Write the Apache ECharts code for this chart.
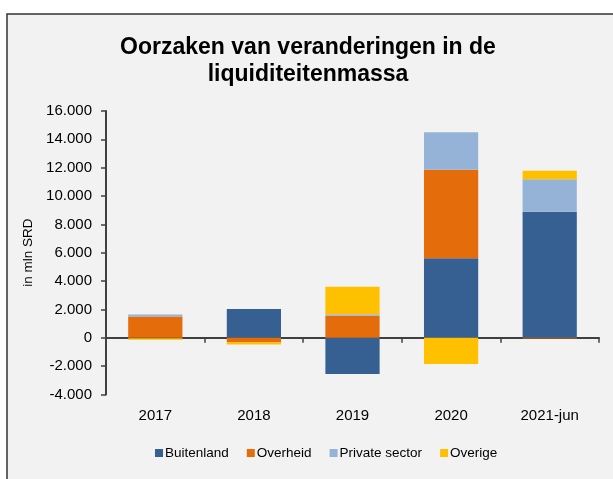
<!DOCTYPE html>
<html>
<head>
<meta charset="utf-8">
<script src="https://cdn.jsdelivr.net/npm/echarts@6/dist/echarts.min.js"></script>
<style>
html,body{margin:0;padding:0;background:#fff;}
#c{width:613px;height:479px;}
</style>
</head>
<body>
<div id="c"></div>
<script>
var categories = ['2017', '2018', '2019', '2020', '2021-jun'];
var buitenland = [-40, 2030, -2560, 5600, 8890];
var overheid = [1500, -320, 1550, 6260, -60];
var privateSector = [130, 0, 100, 2640, 2290];
var overige = [-110, -160, 1950, -1860, 610];
var yTicks = { min: -4000, max: 16000, interval: 2000 };

function fmt(v) {
  var s = String(Math.abs(v));
  var out = s.replace(/\B(?=(\d{3})+(?!\d))/g, '.');
  return (v < 0 ? '-' : '') + out;
}

var chart = echarts.init(document.getElementById('c'), null, { renderer: 'canvas' });
var font = '"Liberation Sans", Arial, sans-serif';
function bar(name, data, color) {
  return {
    name: name, type: 'bar', stack: 'total', data: data,
    xAxisIndex: 0, barWidth: '55%',
    itemStyle: { color: color },
    emphasis: { disabled: true }
  };
}
chart.setOption({
  animation: false,
  backgroundColor: '#ffffff',
  graphic: [{
    type: 'rect', z: -10, silent: true,
    shape: { x: 7, y: 14, width: 700, height: 600 },
    style: { fill: '#f2f2f2', stroke: '#333333', lineWidth: 1.5 }
  }],
  title: {
    text: 'Oorzaken van veranderingen in de\nliquiditeitenmassa',
    left: 303, top: 29, textAlign: 'center',
    textStyle: { fontFamily: '"Liberation Sans Narrow", "Liberation Sans", Arial, sans-serif', fontWeight: 'bold', fontSize: 23, lineHeight: 27, color: '#000' }
  },
  legend: {
    left: 150, top: 441,
    itemWidth: 8, itemHeight: 8, itemGap: 18,
    icon: 'rect',
    textStyle: { fontFamily: font, fontSize: 13.5, color: '#000', padding: [0, 0, 0, -3] },
    data: ['Buitenland', 'Overheid', 'Private sector', 'Overige']
  },
  grid: { left: 106, right: 14, top: 111, bottom: 84.6, containLabel: false },
  xAxis: [{
    type: 'category', data: categories, position: 'bottom',
    axisLine: { show: false, onZero: false },
    axisTick: { show: false },
    axisLabel: { margin: 14, fontFamily: font, fontSize: 15, color: '#000' }
  }, {
    type: 'category', data: categories, position: 'bottom',
    axisLine: { show: true, onZero: true, lineStyle: { color: '#404040', width: 2 } },
    axisTick: { show: true, length: 5, inside: false, lineStyle: { color: '#404040', width: 1.5 } },
    axisLabel: { show: false }
  }],
  yAxis: {
    type: 'value', min: yTicks.min, max: yTicks.max, interval: yTicks.interval,
    name: 'in mln SRD', nameLocation: 'middle', nameRotate: 90, nameGap: 69,
    nameTextStyle: { fontFamily: font, fontSize: 13.5, color: '#000' },
    axisLine: { show: true, lineStyle: { color: '#404040', width: 2 } },
    axisTick: { show: true, length: 5, lineStyle: { color: '#404040', width: 1.5 } },
    splitLine: { show: false },
    axisLabel: { margin: 14, fontFamily: font, fontSize: 15, color: '#000', formatter: fmt }
  },
  series: [
    bar('Buitenland', buitenland, '#376092'),
    bar('Overheid', overheid, '#e46c0a'),
    bar('Private sector', privateSector, '#95b3d7'),
    bar('Overige', overige, '#ffc000')
  ]
});
</script>
</body>
</html>
